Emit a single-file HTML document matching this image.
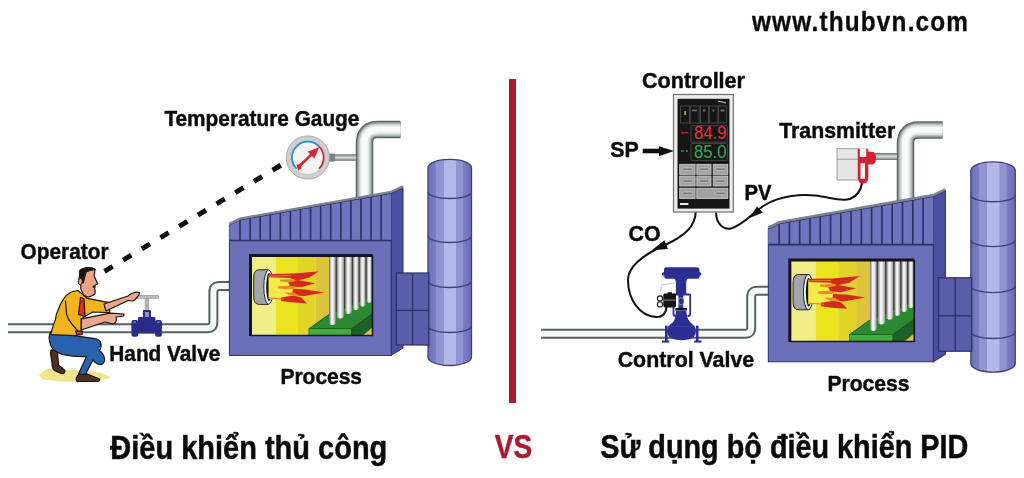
<!DOCTYPE html>
<html><head><meta charset="utf-8">
<style>
html,body{margin:0;padding:0;background:#fff;}
svg{display:block;filter:blur(0.35px);}
text{font-family:"Liberation Sans",sans-serif;font-weight:bold;fill:#0a0a0a;}
</style></head><body>
<svg width="1024" height="478" viewBox="0 0 1024 478">
<defs>
<clipPath id="win"><rect x="250.5" y="255.5" width="122" height="80"/></clipPath>
<linearGradient id="chim" x1="0" x2="1" y1="0" y2="0">
<stop offset="0" stop-color="#6a6eba"/>
<stop offset="0.18" stop-color="#7c80c6"/>
<stop offset="0.19" stop-color="#9094d0"/>
<stop offset="0.36" stop-color="#9094d0"/>
<stop offset="0.37" stop-color="#b4b8e4"/>
<stop offset="0.64" stop-color="#b4b8e4"/>
<stop offset="0.65" stop-color="#9094d0"/>
<stop offset="0.80" stop-color="#9094d0"/>
<stop offset="0.81" stop-color="#7a7ec4"/>
<stop offset="1" stop-color="#6a6eba"/>
</linearGradient>
<linearGradient id="rod" x1="0" x2="1" y1="0" y2="0">
<stop offset="0" stop-color="#7a7a7a"/>
<stop offset="0.35" stop-color="#eeeeee"/>
<stop offset="0.55" stop-color="#f6f6f6"/>
<stop offset="1" stop-color="#9a9a9a"/>
</linearGradient>
<linearGradient id="stem" x1="0" x2="0" y1="0" y2="1">
<stop offset="0" stop-color="#6a7070"/>
<stop offset="0.5" stop-color="#d8dcdc"/>
<stop offset="1" stop-color="#6a7070"/>
</linearGradient>
<g id="proc">
<path d="M428.0,167.6 A21.75,8.199999999999989 0 0 1 471.5,167.6 V357.0 A21.75,8.5 0 0 1 428.0,357.0 Z" fill="url(#chim)" stroke="#3c4078" stroke-width="1.3"/><path d="M428.0,192.0 A21.75,6.5 0 0 0 471.5,192.0" fill="none" stroke="#3c4078" stroke-width="1.3"/><path d="M428.0,236.0 A21.75,6.5 0 0 0 471.5,236.0" fill="none" stroke="#3c4078" stroke-width="1.3"/><path d="M428.0,281.0 A21.75,6.5 0 0 0 471.5,281.0" fill="none" stroke="#3c4078" stroke-width="1.3"/><path d="M428.0,326.0 A21.75,6.5 0 0 0 471.5,326.0" fill="none" stroke="#3c4078" stroke-width="1.3"/>
<polygon points="391.2,193.1 403,187.5 403,348 391.2,355.4" fill="#4c50a2" stroke="#2b2f62" stroke-width="1"/>
<g stroke="#2b2f62" stroke-width="1.2">
<rect x="396.3" y="273" width="32.5" height="72" fill="#5a5eaa"/>
<line x1="412.6" y1="273" x2="412.6" y2="345"/>
<line x1="396.3" y1="310.3" x2="428.8" y2="310.3"/>
</g>
<polygon points="229.4,225 240,219.8 391.2,193.1 391.2,355.4 229.4,355.4" fill="#6b70b9" stroke="#2b2f62" stroke-width="1"/>
<polygon points="229.4,225 240,219.8 391.2,193.1 391.2,240.5 229.4,240.5" fill="#7074be"/>
<g stroke="#2b2f62" stroke-width="1.6"><line x1="240.00" y1="220.00" x2="240.00" y2="240.5"/><line x1="250.08" y1="218.22" x2="250.08" y2="240.5"/><line x1="260.16" y1="216.44" x2="260.16" y2="240.5"/><line x1="270.24" y1="214.66" x2="270.24" y2="240.5"/><line x1="280.32" y1="212.88" x2="280.32" y2="240.5"/><line x1="290.40" y1="211.10" x2="290.40" y2="240.5"/><line x1="300.48" y1="209.32" x2="300.48" y2="240.5"/><line x1="310.56" y1="207.54" x2="310.56" y2="240.5"/><line x1="320.64" y1="205.76" x2="320.64" y2="240.5"/><line x1="330.72" y1="203.98" x2="330.72" y2="240.5"/><line x1="340.80" y1="202.20" x2="340.80" y2="240.5"/><line x1="350.88" y1="200.42" x2="350.88" y2="240.5"/><line x1="360.96" y1="198.64" x2="360.96" y2="240.5"/><line x1="371.04" y1="196.86" x2="371.04" y2="240.5"/><line x1="381.12" y1="195.08" x2="381.12" y2="240.5"/><line x1="229.4" y1="240.5" x2="391.2" y2="240.5"/></g>
<polyline points="229.4,225.2 240,220 391.2,193.3 403,187.7" fill="none" stroke="#2b2f62" stroke-width="1"/>
<polyline points="229.4,223.8 240,218.6 391.2,191.9 403,186.3" fill="none" stroke="#7c8490" stroke-width="2.4"/>
<g clip-path="url(#win)">
<rect x="250" y="255" width="123" height="81" fill="#f1ee8a"/>
<rect x="276" y="255" width="22" height="81" fill="#ebe31f"/>
<rect x="298" y="255" width="17.5" height="81" fill="#e3d42a"/>
<rect x="315.5" y="255" width="58" height="81" fill="#dcc43a"/>
<polygon points="329.2,250 373,250 373,303 329.2,327" fill="#3e3e3e"/>
<polygon points="308.9,328.7 328.2,315 373,296 373,313.8 351.7,328.7" fill="#2b8a31" stroke="#1a4a20" stroke-width="0.8"/>
<path d="M329.2,250 V322.1 A3.20,3.20 0 0 0 335.6,322.1 V250 Z" fill="url(#rod)"/><path d="M336.8,250 V315.1 A3.55,3.55 0 0 0 343.9,315.1 V250 Z" fill="url(#rod)"/><path d="M345.1,250 V310.6 A3.35,3.35 0 0 0 351.8,310.6 V250 Z" fill="url(#rod)"/><path d="M353.0,250 V307.5 A2.80,2.80 0 0 0 358.6,307.5 V250 Z" fill="url(#rod)"/><path d="M359.8,250 V303.7 A2.80,2.80 0 0 0 365.4,303.7 V250 Z" fill="url(#rod)"/><path d="M366.6,250 V300.1 A2.60,2.60 0 0 0 371.8,300.1 V250 Z" fill="url(#rod)"/>
<rect x="308.9" y="328.7" width="42.8" height="8" fill="#3cae3e" stroke="#1a4a20" stroke-width="0.6"/>
<polygon points="351.7,328.7 373,313 373,326.6 361.7,336 351.7,336" fill="#1f5f28" stroke="#1a4a20" stroke-width="0.6"/>
<path d="M268,269.8 H259.5 Q253.7,269.8 253.7,277 V297.2 Q253.7,304.4 259.5,304.4 H268 Z" fill="#a4a4ac" stroke="#2a2a2a" stroke-width="1"/>
<ellipse cx="268.6" cy="287.1" rx="4.8" ry="17.2" fill="#f4f4f4" stroke="#2a2a2a" stroke-width="1"/>
<ellipse cx="269" cy="287.1" rx="2.8" ry="14" fill="#151010"/>
<polygon points="268.5,275.5 293,276 289,279.5 299,283 287,286.5 301,290.5 290,294.3 295,297.8 284,299 268.5,299" fill="#f4ea4a"/>
<polygon points="269,274 292,273.6 306,272.6 319,271.2 309,277.8 297,280.4 290,278 269,277.2" fill="#d42a1e"/>
<polygon points="287,279.6 298,280 315.5,283.2 301,287.2 290,286.2" fill="#d42a1e"/>
<polygon points="293,288.8 306,289.4 324.5,292.4 303,296.2 292,294.6" fill="#d42a1e"/>
<polygon points="281,297.6 293,295.6 301,297.3 307,303.4 294,302.6 281,301" fill="#d42a1e"/>
<polygon points="280,279.6 292,279.2 297,281 288,282.2 280,281.6" fill="#ee8a22"/>
<polygon points="278,286.2 290,285.8 297,288.5 286,289.2 278,288.3" fill="#ee8a22"/>
<polygon points="284,292.6 294,292.4 300,296 290,295.4" fill="#ee8a22"/>
<path d="M269,276 L291,275.6 M269,298 L284,299" stroke="#e07a20" stroke-width="1" fill="none"/>
</g>
<path d="M250.5,336 V255.5 H372.5" fill="none" stroke="#15151f" stroke-width="3"/>
<path d="M372.5,255.5 V335.5 H250.5" fill="none" stroke="#15151f" stroke-width="1.6"/>
</g>
</defs>

<rect x="509" y="79" width="7" height="324" fill="#ab1a2e"/>

<!-- LEFT -->
<path d="M8,328.2 H207.4 Q213.4,328.2 213.4,322.2 V292.1 Q213.4,286.1 219.4,286.1 H231" fill="none" stroke="#566262" stroke-width="10"/><path d="M8,328.2 H207.4 Q213.4,328.2 213.4,322.2 V292.1 Q213.4,286.1 219.4,286.1 H231" fill="none" stroke="#f6f7f7" stroke-width="6"/>
<path d="M364.5,205 V143 Q364.5,129.5 378,129.5 H400.5" fill="none" stroke="#5a6464" stroke-width="17.5"/><path d="M364.5,205 V143 Q364.5,129.5 378,129.5 H400.5" fill="none" stroke="#8a9494" stroke-width="15"/><path d="M364.5,205 V143 Q364.5,129.5 378,129.5 H400.5" fill="none" stroke="#bcc2c2" stroke-width="12.5"/><path d="M364.5,205 V143 Q364.5,129.5 378,129.5 H400.5" fill="none" stroke="#e2e6e6" stroke-width="9.5"/><path d="M364.5,205 V143 Q364.5,129.5 378,129.5 H400.5" fill="none" stroke="#fafbfb" stroke-width="6"/>
<use href="#proc"/>

<line x1="104.5" y1="271.3" x2="281" y2="165.1" stroke="#111" stroke-width="5" stroke-dasharray="9.5 12.3"/>

<rect x="330" y="154.3" width="26" height="6.5" fill="url(#stem)"/>
<rect x="329" y="153.6" width="6" height="8" fill="#7a8282"/>
<circle cx="307.8" cy="157.5" r="21.6" fill="#cfcfcf" stroke="#a8a8a8" stroke-width="1"/>
<circle cx="307.8" cy="157.5" r="17" fill="#f4f4f4" stroke="#b0b0b0" stroke-width="0.6"/>
<path d="M296.6,168.7 A15.8,15.8 0 1 1 319,146.3" fill="none" stroke="#2a8ad0" stroke-width="1.8"/>
<path d="M319,146.3 A15.8,15.8 0 0 1 319,168.7" fill="none" stroke="#d02a30" stroke-width="1.8"/>
<line x1="299" y1="166.5" x2="312" y2="154" stroke="#d42a30" stroke-width="2.6"/><polygon points="319.3,147 307.8,151.8 314.5,158.5" fill="#d42a30"/><polygon points="296.5,164.5 301,164 301.5,168.5 298,170.5" fill="#d42a30"/>

<rect x="133.6" y="295.4" width="25" height="2.8" fill="#bcbcbc" stroke="#8a8a8a" stroke-width="0.6"/>
<rect x="145" y="298.2" width="3.9" height="12" fill="#b4b4b4" stroke="#888" stroke-width="0.4"/>
<rect x="142.9" y="310" width="8.1" height="8" rx="1" fill="#2a2a8a"/>
<rect x="144.9" y="312" width="4.1" height="5" fill="#9494b4"/>
<rect x="138" y="317" width="17.4" height="5" rx="1" fill="#2a2a8a"/>
<rect x="136" y="321" width="21" height="12.5" fill="#2a2a8a"/>
<rect x="131.4" y="320" width="6.8" height="16.8" rx="2" fill="#2a2a8a"/>
<rect x="155.1" y="320" width="6.8" height="16.8" rx="2" fill="#2a2a8a"/>
<rect x="133.5" y="321.5" width="2.5" height="1.3" fill="#8a8ab0"/>
<rect x="157.2" y="321.5" width="2.5" height="1.3" fill="#8a8ab0"/>
<g stroke="#1a1410" stroke-width="1.2" stroke-linejoin="round">
<path d="M39,375.3 C44,370 48.6,368.5 48.6,368.5 L75.8,370 L100.3,372.6 L111.2,377.4 L92,382 L62,381.5 L43,379.4 Z" fill="#f2e48a" stroke="none"/>
<path d="M51,350 C53,349.5 56,350.5 57.5,352 L58.5,365 C61,367 64,369 65,371 C65,373 63,374 61,373.5 L54.5,370.5 C52.5,369 52,366 52,363 L50.5,353 Z" fill="#4e3020"/>
<path d="M79.5,374 L86,373.5 C90,375 96,377.5 99.5,379 C100,380.5 99,381.5 97,381.5 L77,381.5 C75.5,380 76,376 79.5,374 Z" fill="#4e3020"/>
<path d="M50.6,331.8 L75.8,335.9 L94.9,338.6 C99,339 102,343 101,347 C100.5,349 100,350 99.5,351 C102,352 105,356 104.6,360.5 C104,364 101,365.5 97.6,364 C95.5,363 94,361.5 93,360 L85.3,374.5 L78.5,374 L86.5,356.5 C80,357 70,356 62.2,354.3 C56,352.5 52,349 50.6,345 C48.6,340 49,335 50.6,331.8 Z" fill="#2862ae"/>
<path d="M77.9,290.5 C74,291 71,292 70,292.8 C66,295 64,298 63.2,299.6 C60,304 58.7,308.6 58.7,308.6 C56,314 55.3,319.9 55.3,319.9 C53,326 51.9,330.1 51.9,330.1 L50.8,334.6 L74.5,335.7 L81.3,333.5 L81.3,318.8 L84.7,316.5 L92.6,312 L109.6,312.6 L109.6,302.6 L86.9,298.4 L83.5,295 Z" fill="#f0b41c"/>
<path d="M65.5,300.7 C66,308 66.6,314.2 66.6,314.2 C68,320 72.2,324.4 72.2,324.4 L77.9,331.2" fill="none"/>
<path d="M80.5,297.5 L84,298.5 L85,316.5 L78.5,314.5 Z" fill="#e0301c"/>
<path d="M75.6,331.2 L82.4,331 L82,334.6 L77,335 Z" fill="#e0301c"/>
<path d="M104,304 L128,296 C131,293 136,291.5 139.5,292.5 L139,295 C137,297 136,300 133,301 L128,300.5 L106,311 Z" fill="#e8a68a"/>
<path d="M81.3,318.8 L110.3,313.2 L124,314 L123.5,316 L116,317 C117,320 116,323 113,324 L105,322 L81.3,330 Z" fill="#e8a68a"/>
<path d="M80,270.4 C84,267 91,266.6 95,269.5 L94.2,276.2 L97.6,283.8 L95,285.4 L93.4,286.3 L95,289.6 L95,293.8 C93,295.5 90.9,296.3 90.9,296.3 L87.5,297.1 L83.5,295 L80.8,288.8 L80.8,284.6 C78,284 78,279 79.1,278.7 Z" fill="#eba584"/>
<path d="M80,270.4 C84,267 91,266.6 95,269.5 C92,270 88,271 86,272 C85,276 84,280 83.3,282.9 L81,283 C80,279 80,275 80,270.4 Z" fill="#1e140c"/>
<ellipse cx="80.3" cy="281.6" rx="1.9" ry="3.2" fill="#eba584" stroke-width="0.8"/>
<path d="M92.5,286.4 Q95,285.6 96.5,287 Q95,288.2 92.8,287.6 Z" fill="#2a1a10" stroke="none"/>
</g>

<text x="164.4" y="126" font-size="21.5" stroke="#111" stroke-width="0.45" lengthAdjust="spacingAndGlyphs" textLength="195">Temperature Gauge</text>
<text x="20.5" y="258.8" font-size="21.5" stroke="#111" stroke-width="0.45" lengthAdjust="spacingAndGlyphs" textLength="88">Operator</text>
<text x="109.3" y="360.8" font-size="21.5" stroke="#111" stroke-width="0.45" lengthAdjust="spacingAndGlyphs" textLength="111">Hand Valve</text>
<text x="280.5" y="383.5" font-size="21.5" stroke="#111" stroke-width="0.45" lengthAdjust="spacingAndGlyphs" textLength="81.5">Process</text>

<!-- RIGHT -->
<path d="M541,333.8 H745.2 Q751.2,333.8 751.2,327.8 V296.8 Q751.2,290.8 757.2,290.8 H769" fill="none" stroke="#566262" stroke-width="10"/><path d="M541,333.8 H745.2 Q751.2,333.8 751.2,327.8 V296.8 Q751.2,290.8 757.2,290.8 H769" fill="none" stroke="#f6f7f7" stroke-width="6"/>
<path d="M905.5,205 V143.5 Q905.5,129.9 919,129.9 H942.6" fill="none" stroke="#5a6464" stroke-width="17.5"/><path d="M905.5,205 V143.5 Q905.5,129.9 919,129.9 H942.6" fill="none" stroke="#8a9494" stroke-width="15"/><path d="M905.5,205 V143.5 Q905.5,129.9 919,129.9 H942.6" fill="none" stroke="#bcc2c2" stroke-width="12.5"/><path d="M905.5,205 V143.5 Q905.5,129.9 919,129.9 H942.6" fill="none" stroke="#e2e6e6" stroke-width="9.5"/><path d="M905.5,205 V143.5 Q905.5,129.9 919,129.9 H942.6" fill="none" stroke="#fafbfb" stroke-width="6"/>
<g transform="translate(768.3,228.1) scale(1.02) translate(-229.4,-224.3)"><use href="#proc"/></g>

<rect x="875" y="153" width="22" height="7" fill="url(#stem)"/>
<rect x="837" y="148.7" width="21" height="31.3" fill="#e6e6e6" stroke="#888" stroke-width="0.8"/>
<line x1="837" y1="159.2" x2="858" y2="159.2" stroke="#888" stroke-width="0.8"/>
<path d="M866,151.8 H872 Q876,152 876,158 Q876,164.4 872,164.4 H866 Z" fill="#d42030"/>
<path d="M858,148.7 H868.3 V178 Q868.3,183.5 863,183.5 Q858,183.5 858,178 Z" fill="#d42030"/>
<rect x="859.8" y="149" width="6.4" height="8" fill="#f4f4f4"/>
<rect x="860.5" y="163.3" width="4.5" height="15.5" fill="#f4f4f4"/>

<path d="M862,183 C861,190 857,196 850,199 C840,202 830,197 815,195.5 C800,194 780,196 765,205 C752,213 745,224 731,228.6 C722,230 716,222 716.1,212.5" fill="none" stroke="#111" stroke-width="2"/>
<polygon points="749,218.3 757,206.6 763,212.5" fill="#111"/>
<path d="M695.8,211.5 C695.5,226 685,236 665,245 C645,254 628,266 628,280 C628,300 640,316 656,317 C662,317.5 666,314 666.5,307" fill="none" stroke="#111" stroke-width="2"/>
<polygon points="651.8,250.2 664.4,240.2 668,249" fill="#111"/>

<rect x="673.5" y="94.5" width="59.8" height="117.5" fill="#ececec" stroke="#707070" stroke-width="1.2"/>
<rect x="677.5" y="98.8" width="52" height="109.8" fill="#161616"/>
<g fill="none" stroke="#505050" stroke-width="0.8">
<rect x="680.5" y="106" width="9" height="17"/><rect x="690.2" y="106" width="9" height="17"/><rect x="700.4" y="106" width="8.2" height="17"/><rect x="709.3" y="106" width="8.6" height="17"/><rect x="718.7" y="106" width="7.6" height="17"/>
<rect x="691" y="125.7" width="36.4" height="16.5" rx="1"/>
<rect x="691" y="143.6" width="36.4" height="16.8" rx="1"/>
</g>
<rect x="684.2" y="111" width="1.8" height="4" fill="#9ab040"/><g fill="#6a6a6a"><rect x="692" y="109.5" width="5" height="1.8"/><rect x="703" y="109.5" width="2.4" height="2"/><rect x="712.5" y="109.5" width="2" height="2"/><rect x="720.5" y="109.5" width="4" height="2"/></g>
<rect x="681" y="132" width="7.5" height="1.4" fill="#a03030"/>
<rect x="681" y="150.3" width="3" height="1.4" fill="#30a050"/>
<rect x="686" y="150.3" width="2" height="1.4" fill="#30a050"/>
<path d="M718,101 L726,103" stroke="#ccc" stroke-width="1"/>
<text x="694" y="139.3" font-size="17.5" textLength="32.5" lengthAdjust="spacingAndGlyphs" style="font-weight:normal;fill:#e8343c">84.9</text>
<text x="694" y="157.7" font-size="17.5" textLength="32.5" lengthAdjust="spacingAndGlyphs" style="font-weight:normal;fill:#2eaa55">85.0</text>
<g fill="#a2a2a2" stroke="#d4d4d4" stroke-width="0.8">
<rect x="679.7" y="164.3" width="15.4" height="10"/><rect x="696.8" y="164.3" width="14.2" height="10"/><rect x="713.2" y="164.3" width="14.6" height="10"/>
<rect x="679.7" y="176" width="15.4" height="10"/><rect x="696.8" y="176" width="14.2" height="10"/><rect x="713.2" y="176" width="14.6" height="10"/>
<rect x="679.7" y="188.2" width="15.4" height="10.4"/><rect x="696.8" y="188.2" width="31" height="10.4"/>
</g>
<g fill="#7a7a7a" stroke="#dcdcdc" stroke-width="0.5">
<rect x="682.5" y="168" width="10" height="2.6" rx="1.3"/><rect x="699" y="168" width="10" height="2.6" rx="1.3"/><rect x="715.5" y="168" width="10" height="2.6" rx="1.3"/>
<rect x="682.5" y="179.7" width="10" height="2.6" rx="1.3"/><rect x="699" y="179.7" width="10" height="2.6" rx="1.3"/><rect x="715.5" y="179.7" width="10" height="2.6" rx="1.3"/>
<rect x="682.5" y="192.1" width="10" height="2.6" rx="1.3"/><rect x="715.5" y="192.1" width="10" height="2.6" rx="1.3"/>
</g>
<rect x="680" y="203" width="8.4" height="2" fill="#e8e8e8"/>

<rect x="642.7" y="148.7" width="18" height="4.6" fill="#111"/>
<polygon points="659,146.3 674,151 659,156.2" fill="#111"/>

<!-- control valve -->
<path d="M660.5,292 L661.4,284.8 L674.6,283.1" fill="none" stroke="#c4c4c4" stroke-width="1"/>
<path d="M666,267.2 H697 Q699.5,267.2 699.5,270 V272 L701.3,273 V275 L699.5,276 V277 Q699.5,278.7 697,278.7 H666.5 Q664.3,278.7 664.3,277 V276 L662,275 V273 L664,272 V270 Q664,267.2 666,267.2 Z" fill="#2b2f93"/>
<path d="M674,278 H688 Q686.2,280 686.2,282 V295 H675.9 V282 Q675.9,280 674,278 Z" fill="#2b2f93"/>
<path d="M673.5,294 V314 Q673.5,316 676,316 M690.2,294 V314 Q690.2,316 687.5,316 M673.5,294.5 H690.2" fill="none" stroke="#2b2f93" stroke-width="1.8"/>
<rect x="678.4" y="294" width="4.9" height="14.5" fill="#2b2f93"/>
<ellipse cx="681.2" cy="301.3" rx="2.8" ry="3.7" fill="#2b2f93" stroke="#e8e8f4" stroke-width="0.5"/>
<rect x="675.4" y="308" width="11.5" height="2.4" fill="#111"/>
<path d="M676,310.4 H686.3 Q686.5,318 690,322 Q693,324.5 694.8,326.8 H668.1 Q670,324.5 673,322 Q676,318 676,310.4 Z" fill="#2b2f93"/>
<path d="M668.1,326.3 H694.8 Q696.5,331 695.5,334 Q693.5,340.1 681.5,340.3 Q669.5,340.1 667.5,334 Q666.5,331 668.1,326.3 Z" fill="#2b2f93"/>
<rect x="665" y="325.6" width="2.6" height="15.7" fill="#2b2f93"/>
<rect x="695.9" y="325.6" width="2.6" height="15.7" fill="#2b2f93"/>
<rect x="662" y="340.6" width="7.3" height="2" fill="#2b2f93"/>
<rect x="694.2" y="340.6" width="7.3" height="2" fill="#2b2f93"/>
<path d="M663.3,295 Q663.3,293.5 665,293.5 H667.5 V292.2 H672 V293.5 H674.5 Q676,293.5 676,295 V305.5 Q676,307.4 674,307.4 H665.3 Q663.3,307.4 663.3,305.5 Z" fill="#151515"/>
<rect x="664" y="299.4" width="11.5" height="1.4" fill="#6a6a6a"/>
<circle cx="660" cy="298.5" r="2.6" fill="#f4f4f4" stroke="#151515" stroke-width="1.1"/>
<circle cx="660" cy="304.4" r="2.6" fill="#f4f4f4" stroke="#151515" stroke-width="1.1"/>

<text x="752" y="30.8" font-size="28" stroke="#111" stroke-width="0.35" textLength="248.3" lengthAdjust="spacing" transform="translate(752,0) scale(0.87,1) translate(-752,0)">www.thubvn.com</text>
<text x="642" y="88" font-size="21.5" stroke="#111" stroke-width="0.45" lengthAdjust="spacingAndGlyphs" textLength="103">Controller</text>
<text x="610.3" y="157.4" font-size="21.5" stroke="#111" stroke-width="0.45" lengthAdjust="spacingAndGlyphs" textLength="28.5">SP</text>
<text x="628.6" y="241" font-size="21.5" stroke="#111" stroke-width="0.45" lengthAdjust="spacingAndGlyphs" textLength="32">CO</text>
<text x="744.5" y="200.3" font-size="21.5" stroke="#111" stroke-width="0.45" lengthAdjust="spacingAndGlyphs" textLength="27">PV</text>
<text x="779.2" y="138.4" font-size="21.5" stroke="#111" stroke-width="0.45" lengthAdjust="spacingAndGlyphs" textLength="116">Transmitter</text>
<text x="617.7" y="367.3" font-size="21.5" stroke="#111" stroke-width="0.45" lengthAdjust="spacingAndGlyphs" textLength="136.5">Control Valve</text>
<text x="827.4" y="390.5" font-size="21.5" stroke="#111" stroke-width="0.45" lengthAdjust="spacingAndGlyphs" textLength="82">Process</text>

<text x="110.3" y="458.8" font-size="33" stroke="#111" stroke-width="0.5" textLength="277" lengthAdjust="spacingAndGlyphs">Điều khiển thủ công</text>
<text x="494.8" y="458.3" font-size="33" stroke="#ab1a2e" stroke-width="0.5" textLength="37.5" lengthAdjust="spacingAndGlyphs" style="fill:#ab1a2e">VS</text>
<text x="600.3" y="458.3" font-size="33" stroke="#111" stroke-width="0.5" textLength="368" lengthAdjust="spacingAndGlyphs">Sử dụng bộ điều khiển PID</text>
</svg>
</body></html>
